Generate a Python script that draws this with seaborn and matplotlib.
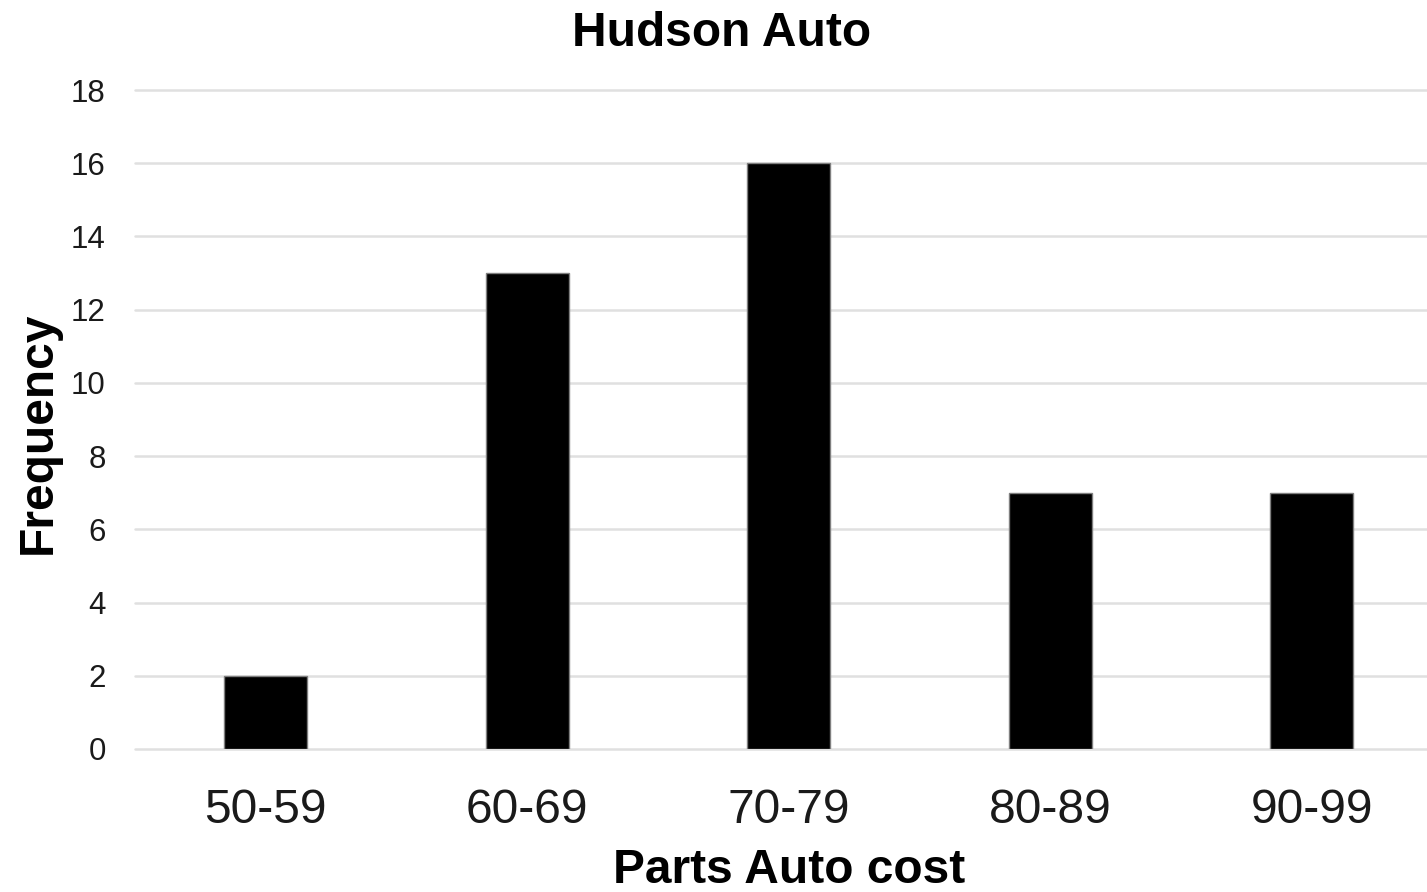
import matplotlib
matplotlib.use("Agg")
import matplotlib.pyplot as plt
import seaborn as sns
import pandas as pd

# Frequency distribution of parts cost
cost_bins = ["50-59", "60-69", "70-79", "80-89", "90-99"]
frequency = [2, 13, 16, 7, 7]
y_ticks = [0, 2, 4, 6, 8, 10, 12, 14, 16, 18]

sns.set_theme(style="white")
plt.rcParams["font.family"] = ["Liberation Sans", "DejaVu Sans"]

W, H = 1427, 892
fig = plt.figure(figsize=(W / 100, H / 100), dpi=100)
ax = fig.add_axes([135 / W, (H - 749) / H, (1442.4 - 135) / W, (749 - 90) / H])

df = pd.DataFrame({"cost": cost_bins, "freq": frequency})
sns.barplot(data=df, x="cost", y="freq", ax=ax, color="black", saturation=1,
            width=0.318, edgecolor="#7f7f7f", linewidth=1.0, zorder=3)

ax.set_xlim(-0.5, 4.5)
ax.set_ylim(0, 18)
ax.set_yticks(y_ticks)
ax.yaxis.grid(True, color="#e0e0e0", linewidth=1.8, zorder=0)
ax.xaxis.grid(False)
ax.set_axisbelow(True)
for gl in ax.get_ygridlines():
    gl.set_clip_on(False)
for s in ax.spines.values():
    s.set_visible(False)

ax.tick_params(axis="y", length=0, pad=21, labelsize=22.5, labelcolor="#1a1a1a")
ax.tick_params(axis="x", length=0, pad=28, labelsize=34.5, labelcolor="#1a1a1a")

ax.set_xlabel("")
ax.set_ylabel("")

fig.text(722 / W, 1 - 46 / H, "Hudson Auto", ha="center", va="baseline",
         fontsize=34.5, fontweight="bold", color="black")
fig.text(789 / W, 1 - 883 / H, "Parts Auto cost", ha="center", va="baseline",
         fontsize=34.5, fontweight="bold", color="black")
fig.text(38 / W, 1 - 433 / H, "Frequency", ha="center", va="center",
         rotation=90, fontsize=34.5, fontweight="bold", color="black")

fig.savefig("out.png", dpi=100, facecolor="white")
